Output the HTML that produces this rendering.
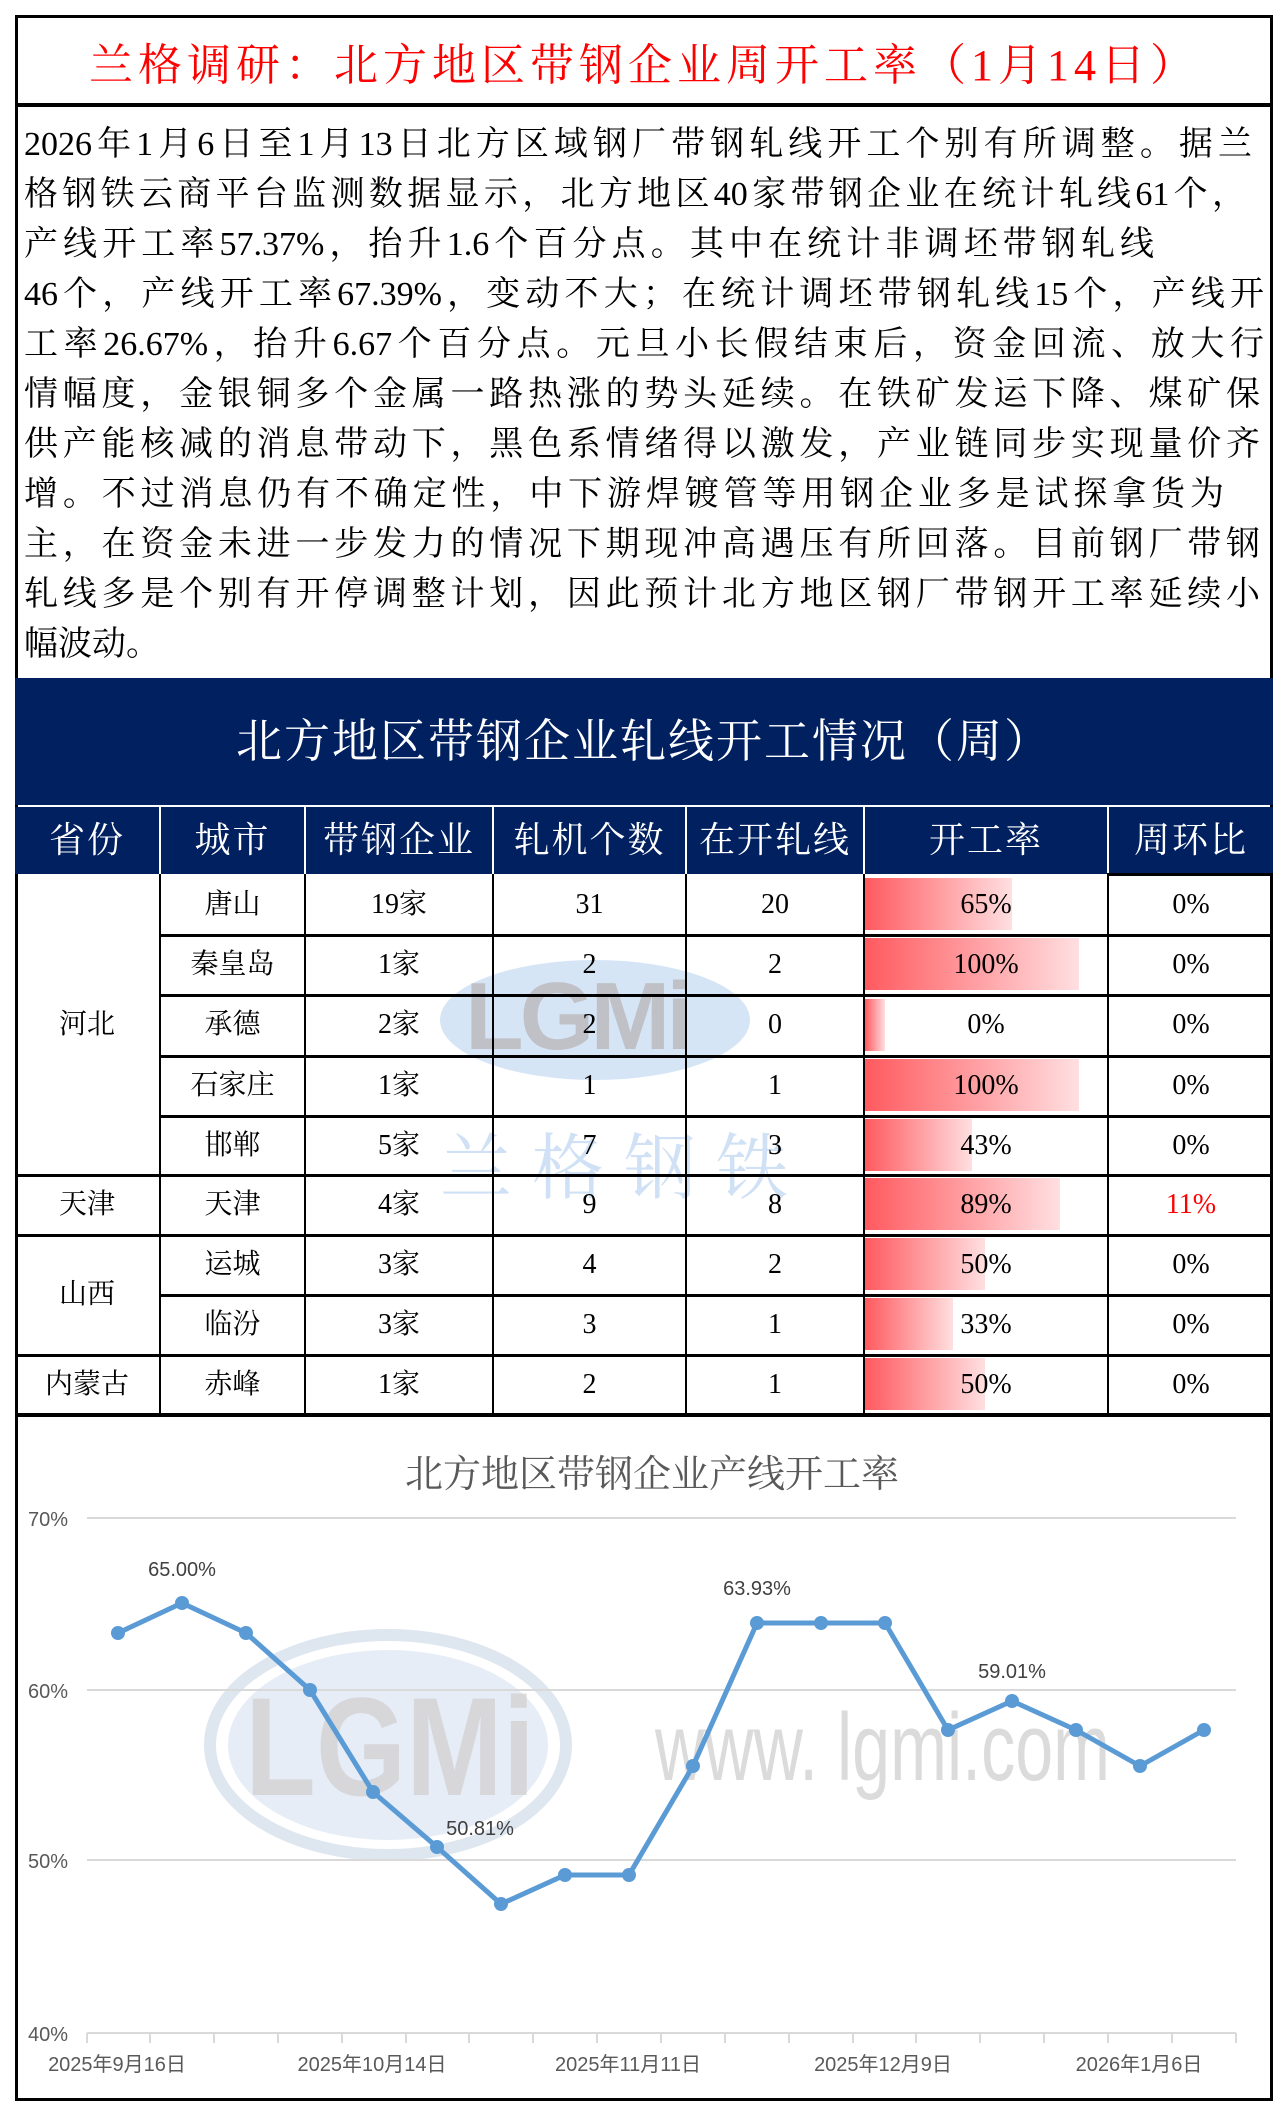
<!DOCTYPE html>
<html><head><meta charset="utf-8"><style>
*{margin:0;padding:0;box-sizing:border-box}
body{width:1288px;height:2116px;background:#fff;position:relative;font-family:"Liberation Serif","Noto Serif CJK SC",serif;overflow:hidden}
.a{position:absolute}
.ln{position:absolute;left:24px;font-size:34px;line-height:50px;white-space:nowrap;text-align:justify;text-align-last:justify;color:#000}
.hd{position:absolute;top:807px;height:67px;color:#fff;font-size:36px;line-height:67px;text-align:center;background:#002060;letter-spacing:2px}
.c{position:absolute;font-size:28px;text-align:center;height:60px;line-height:60px;color:#000}
.vl{position:absolute;width:2px;background:#000}
.hl{position:absolute;height:3px;background:#000}
.bar{position:absolute;left:865px;height:52px;background:linear-gradient(to right,#ff5a5f,#ffdfe1)}
</style></head><body>
<div class="a" style="left:15px;top:15px;width:1258px;height:2086px;border:3px solid #000"></div>
<div class="a" style="left:15px;top:28px;width:1258px;text-align:center;color:#ff0000;font-size:44px;line-height:76px;letter-spacing:5px">兰格调研：北方地区带钢企业周开工率（1月14日）</div>
<div class="a" style="left:15px;top:103px;width:1258px;height:4px;background:#000"></div>
<div class="ln" style="top:120px;width:1228px">2026年1月6日至1月13日北方区域钢厂带钢轧线开工个别有所调整。据兰</div>
<div class="ln" style="top:170px;width:1222px">格钢铁云商平台监测数据显示，北方地区40家带钢企业在统计轧线61个，</div>
<div class="ln" style="top:220px;width:1130px">产线开工率57.37%，抬升1.6个百分点。其中在统计非调坯带钢轧线</div>
<div class="ln" style="top:270px;width:1240px">46个，产线开工率67.39%，变动不大；在统计调坯带钢轧线15个，产线开</div>
<div class="ln" style="top:320px;width:1240px">工率26.67%，抬升6.67个百分点。元旦小长假结束后，资金回流、放大行</div>
<div class="ln" style="top:370px;width:1236px">情幅度，金银铜多个金属一路热涨的势头延续。在铁矿发运下降、煤矿保</div>
<div class="ln" style="top:420px;width:1236px">供产能核减的消息带动下，黑色系情绪得以激发，产业链同步实现量价齐</div>
<div class="ln" style="top:470px;width:1200px">增。不过消息仍有不确定性，中下游焊镀管等用钢企业多是试探拿货为</div>
<div class="ln" style="top:520px;width:1236px">主，在资金未进一步发力的情况下期现冲高遇压有所回落。目前钢厂带钢</div>
<div class="ln" style="top:570px;width:1236px">轧线多是个别有开停调整计划，因此预计北方地区钢厂带钢开工率延续小</div>
<div class="ln" style="top:620px;text-align-last:auto">幅波动。</div>
<div class="a" style="left:15px;top:678px;width:1258px;height:127px;background:#002060;color:#fff;font-size:46px;text-align:center;line-height:127px;letter-spacing:2px">北方地区带钢企业轧线开工情况（周）</div>
<div class="hd" style="left:15px;width:144px">省份</div>
<div class="hd" style="left:161px;width:143px">城市</div>
<div class="hd" style="left:306px;width:186px">带钢企业</div>
<div class="hd" style="left:494px;width:191px">轧机个数</div>
<div class="hd" style="left:687px;width:176px">在开轧线</div>
<div class="hd" style="left:865px;width:242px">开工率</div>
<div class="hd" style="left:1109px;width:164px">周环比</div>
<div class="a" style="left:440px;top:960px;width:310px;height:120px;border-radius:50%;background:rgba(120,170,225,0.3)"></div>
<div class="a" style="left:465px;top:962px;font-family:'Liberation Sans',sans-serif;font-weight:bold;font-size:96px;color:rgba(160,140,130,0.4);letter-spacing:-4px">LGMi</div>
<div class="a" style="left:440px;top:1110px;font-size:72px;color:rgba(120,170,225,0.35);letter-spacing:20px">兰格钢铁</div>
<div class="bar" style="top:878px;width:147px"></div>
<div class="bar" style="top:938px;width:214px"></div>
<div class="bar" style="top:999px;width:20px"></div>
<div class="bar" style="top:1059px;width:214px"></div>
<div class="bar" style="top:1119px;width:107px"></div>
<div class="bar" style="top:1178px;width:195px"></div>
<div class="bar" style="top:1238px;width:120px"></div>
<div class="bar" style="top:1298px;width:88px"></div>
<div class="bar" style="top:1358px;width:120px"></div>
<div class="vl" style="left:159px;top:874px;height:542px"></div>
<div class="vl" style="left:304px;top:874px;height:542px"></div>
<div class="vl" style="left:492px;top:874px;height:542px"></div>
<div class="vl" style="left:685px;top:874px;height:542px"></div>
<div class="vl" style="left:863px;top:874px;height:542px"></div>
<div class="vl" style="left:1107px;top:874px;height:542px"></div>
<div class="hl" style="left:1107px;top:873px;width:166px"></div>
<div class="hl" style="left:159px;top:934px;width:1114px"></div>
<div class="hl" style="left:159px;top:994px;width:1114px"></div>
<div class="hl" style="left:159px;top:1055px;width:1114px"></div>
<div class="hl" style="left:159px;top:1115px;width:1114px"></div>
<div class="hl" style="left:15px;top:1174px;width:1258px"></div>
<div class="hl" style="left:15px;top:1234px;width:1258px"></div>
<div class="hl" style="left:159px;top:1294px;width:1114px"></div>
<div class="hl" style="left:15px;top:1354px;width:1258px"></div>
<div class="a" style="left:15px;top:1413px;width:1258px;height:4px;background:#000"></div>
<div class="c" style="left:15px;top:995px;width:144px">河北</div>
<div class="c" style="left:15px;top:1175px;width:144px">天津</div>
<div class="c" style="left:15px;top:1265px;width:144px">山西</div>
<div class="c" style="left:15px;top:1355px;width:144px">内蒙古</div>
<div class="c" style="left:161px;top:875px;width:143px">唐山</div><div class="c" style="left:306px;top:875px;width:186px">19家</div><div class="c" style="left:494px;top:875px;width:191px">31</div><div class="c" style="left:687px;top:875px;width:176px">20</div><div class="c" style="left:865px;top:875px;width:242px">65%</div><div class="c" style="left:1109px;top:875px;width:164px">0%</div>
<div class="c" style="left:161px;top:935px;width:143px">秦皇岛</div><div class="c" style="left:306px;top:935px;width:186px">1家</div><div class="c" style="left:494px;top:935px;width:191px">2</div><div class="c" style="left:687px;top:935px;width:176px">2</div><div class="c" style="left:865px;top:935px;width:242px">100%</div><div class="c" style="left:1109px;top:935px;width:164px">0%</div>
<div class="c" style="left:161px;top:995px;width:143px">承德</div><div class="c" style="left:306px;top:995px;width:186px">2家</div><div class="c" style="left:494px;top:995px;width:191px">2</div><div class="c" style="left:687px;top:995px;width:176px">0</div><div class="c" style="left:865px;top:995px;width:242px">0%</div><div class="c" style="left:1109px;top:995px;width:164px">0%</div>
<div class="c" style="left:161px;top:1056px;width:143px">石家庄</div><div class="c" style="left:306px;top:1056px;width:186px">1家</div><div class="c" style="left:494px;top:1056px;width:191px">1</div><div class="c" style="left:687px;top:1056px;width:176px">1</div><div class="c" style="left:865px;top:1056px;width:242px">100%</div><div class="c" style="left:1109px;top:1056px;width:164px">0%</div>
<div class="c" style="left:161px;top:1116px;width:143px">邯郸</div><div class="c" style="left:306px;top:1116px;width:186px">5家</div><div class="c" style="left:494px;top:1116px;width:191px">7</div><div class="c" style="left:687px;top:1116px;width:176px">3</div><div class="c" style="left:865px;top:1116px;width:242px">43%</div><div class="c" style="left:1109px;top:1116px;width:164px">0%</div>
<div class="c" style="left:161px;top:1175px;width:143px">天津</div><div class="c" style="left:306px;top:1175px;width:186px">4家</div><div class="c" style="left:494px;top:1175px;width:191px">9</div><div class="c" style="left:687px;top:1175px;width:176px">8</div><div class="c" style="left:865px;top:1175px;width:242px">89%</div><div class="c" style="left:1109px;top:1175px;width:164px;color:#f00">11%</div>
<div class="c" style="left:161px;top:1235px;width:143px">运城</div><div class="c" style="left:306px;top:1235px;width:186px">3家</div><div class="c" style="left:494px;top:1235px;width:191px">4</div><div class="c" style="left:687px;top:1235px;width:176px">2</div><div class="c" style="left:865px;top:1235px;width:242px">50%</div><div class="c" style="left:1109px;top:1235px;width:164px">0%</div>
<div class="c" style="left:161px;top:1295px;width:143px">临汾</div><div class="c" style="left:306px;top:1295px;width:186px">3家</div><div class="c" style="left:494px;top:1295px;width:191px">3</div><div class="c" style="left:687px;top:1295px;width:176px">1</div><div class="c" style="left:865px;top:1295px;width:242px">33%</div><div class="c" style="left:1109px;top:1295px;width:164px">0%</div>
<div class="c" style="left:161px;top:1355px;width:143px">赤峰</div><div class="c" style="left:306px;top:1355px;width:186px">1家</div><div class="c" style="left:494px;top:1355px;width:191px">2</div><div class="c" style="left:687px;top:1355px;width:176px">1</div><div class="c" style="left:865px;top:1355px;width:242px">50%</div><div class="c" style="left:1109px;top:1355px;width:164px">0%</div>
<svg class="a" style="left:0;top:0" width="1288" height="2116" font-family="Liberation Sans,Noto Sans CJK SC,sans-serif">
<ellipse cx="388" cy="1745" rx="178" ry="110" fill="none" stroke="rgba(190,205,225,0.5)" stroke-width="12"/>
<ellipse cx="388" cy="1745" rx="160" ry="95" fill="rgba(200,215,235,0.45)"/>
<text x="245" y="1795" font-size="140" font-weight="bold" fill="rgba(205,200,200,0.6)" textLength="290" lengthAdjust="spacingAndGlyphs">LGMi</text>
<text x="655" y="1780" font-size="96" fill="rgba(195,195,195,0.6)" textLength="455" lengthAdjust="spacingAndGlyphs">www. lgmi.com</text>
<text x="652" y="1487" font-size="38" fill="#595959" text-anchor="middle" font-family="Liberation Serif,Noto Serif CJK SC,serif">北方地区带钢企业产线开工率</text>
<g stroke="#d9d9d9" stroke-width="2">
<line x1="87" y1="1518" x2="1236" y2="1518"/><line x1="87" y1="1690" x2="1236" y2="1690"/><line x1="87" y1="1860" x2="1236" y2="1860"/><line x1="87" y1="2033" x2="1236" y2="2033"/>
</g>
<g font-size="20" fill="#595959">
<text x="28" y="1526">70%</text><text x="28" y="1698">60%</text><text x="28" y="1868">50%</text><text x="28" y="2041">40%</text>
<text x="117" y="2071" text-anchor="middle">2025年9月16日</text>
<text x="372" y="2071" text-anchor="middle">2025年10月14日</text>
<text x="628" y="2071" text-anchor="middle">2025年11月11日</text>
<text x="883" y="2071" text-anchor="middle">2025年12月9日</text>
<text x="1139" y="2071" text-anchor="middle">2026年1月6日</text>
</g>
<polyline fill="none" stroke="#5b9bd5" stroke-width="5" stroke-linejoin="round" points="118,1633 182,1603 246,1633 310,1690 373,1792 437,1847 501,1904 565,1875 629,1875 693,1766 757,1623 821,1623 885,1623 948,1730 1012,1701 1076,1730 1140,1766 1204,1730"/>
<g fill="#5b9bd5">
<circle cx="118" cy="1633" r="7"/><circle cx="182" cy="1603" r="7"/><circle cx="246" cy="1633" r="7"/><circle cx="310" cy="1690" r="7"/><circle cx="373" cy="1792" r="7"/><circle cx="437" cy="1847" r="7"/><circle cx="501" cy="1904" r="7"/><circle cx="565" cy="1875" r="7"/><circle cx="629" cy="1875" r="7"/><circle cx="693" cy="1766" r="7"/><circle cx="757" cy="1623" r="7"/><circle cx="821" cy="1623" r="7"/><circle cx="885" cy="1623" r="7"/><circle cx="948" cy="1730" r="7"/><circle cx="1012" cy="1701" r="7"/><circle cx="1076" cy="1730" r="7"/><circle cx="1140" cy="1766" r="7"/><circle cx="1204" cy="1730" r="7"/>
</g>
<g font-size="20" fill="#404040" text-anchor="middle">
<text x="182" y="1576">65.00%</text><text x="480" y="1835">50.81%</text><text x="757" y="1595">63.93%</text><text x="1012" y="1678">59.01%</text>
</g>
<g stroke="#d9d9d9" stroke-width="2">
<line x1="87" y1="2033" x2="87" y2="2043"/><line x1="150" y1="2033" x2="150" y2="2043"/><line x1="214" y1="2033" x2="214" y2="2043"/><line x1="278" y1="2033" x2="278" y2="2043"/><line x1="342" y1="2033" x2="342" y2="2043"/><line x1="406" y1="2033" x2="406" y2="2043"/><line x1="469" y1="2033" x2="469" y2="2043"/><line x1="533" y1="2033" x2="533" y2="2043"/><line x1="597" y1="2033" x2="597" y2="2043"/><line x1="661" y1="2033" x2="661" y2="2043"/><line x1="725" y1="2033" x2="725" y2="2043"/><line x1="789" y1="2033" x2="789" y2="2043"/><line x1="853" y1="2033" x2="853" y2="2043"/><line x1="916" y1="2033" x2="916" y2="2043"/><line x1="980" y1="2033" x2="980" y2="2043"/><line x1="1044" y1="2033" x2="1044" y2="2043"/><line x1="1108" y1="2033" x2="1108" y2="2043"/><line x1="1172" y1="2033" x2="1172" y2="2043"/><line x1="1236" y1="2033" x2="1236" y2="2043"/>
</g>
</svg>
</body></html>
